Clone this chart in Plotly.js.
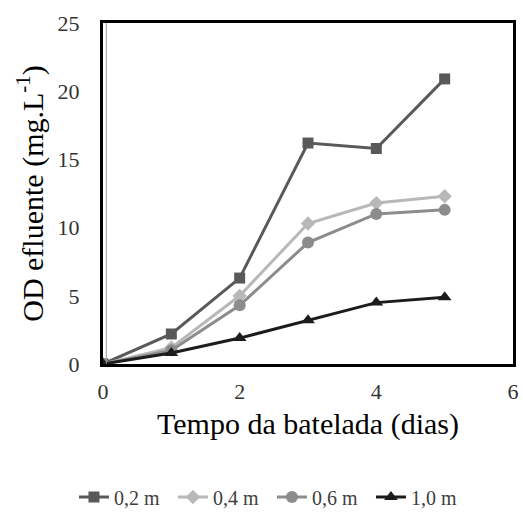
<!DOCTYPE html>
<html><head><meta charset="utf-8">
<script src="https://cdn.plot.ly/plotly-3.0.1.min.js"></script>
<style>body{margin:0;background:#fff}#c{width:523px;height:515px}</style>
</head><body><div id="c"></div>
<script>
const days = [0, 1, 2, 3, 4, 5];
const s02 = [0, 2.2, 6.3, 16.2, 15.8, 20.9];
const s04 = [0, 1.2, 5.0, 10.3, 11.8, 12.3];
const s06 = [0, 1.0, 4.3, 8.9, 11.0, 11.3];
const s10 = [0, 0.8, 1.9, 3.2, 4.5, 4.9];
const names = ['0,2 m', '0,4 m', '0,6 m', '1,0 m'];
const xTicks = [0, 2, 4, 6];
const yTicks = [0, 5, 10, 15, 20, 25];

const styles = [
  {color: '#595959', symbol: 'square', size: 11},
  {color: '#b8b8b8', symbol: 'diamond', size: 11},
  {color: '#8c8c8c', symbol: 'circle', size: 12},
  {color: '#1c1c1c', symbol: 'triangle-up', size: 12}
];
const series = [s02, s04, s06, s10];
const data = series.map((s, i) => ({
  x: days, y: s, name: names[i], type: 'scatter', mode: 'lines+markers',
  line: {color: styles[i].color, width: 3},
  marker: {color: styles[i].color, symbol: styles[i].symbol, size: styles[i].size}
}));

const fam = 'Liberation Serif';
const layout = {
  width: 523, height: 515,
  margin: {l: 103, r: 10, t: 23, b: 151},
  paper_bgcolor: '#fff', plot_bgcolor: '#fff',
  font: {family: fam, color: '#000'},
  showlegend: true,
  legend: {orientation: 'h', xref: 'container', yref: 'container', x: 0.52, xanchor: 'center', y: 0.035, yanchor: 'middle',
           font: {family: fam, size: 20, color: '#404040'}, entrywidth: 54, tracegroupgap: 0},
  xaxis: {range: [0, 6], tickvals: xTicks, ticktext: xTicks.map(String),
          showgrid: false, zeroline: false, showline: true, linecolor: '#000', linewidth: 3, mirror: true,
          ticks: '', ticklabelstandoff: 6, tickfont: {family: fam, size: 22, color: '#333'},
          title: {text: 'Tempo da batelada (dias)', font: {family: fam, size: 30, color: '#000'}, standoff: 10}},
  yaxis: {range: [0, 25], tickvals: yTicks, ticktext: yTicks.map(String),
          showgrid: false, zeroline: false, showline: true, linecolor: '#000', linewidth: 3, mirror: true,
          ticks: '', ticklabelstandoff: 16, tickfont: {family: fam, size: 22, color: '#333'},
          title: {text: 'OD efluente (mg.L<sup>-1</sup>)', font: {family: fam, size: 30, color: '#000'}, standoff: 6}},
  shapes: [
    {type: 'line', xref: 'paper', yref: 'paper', x0: 0.008, x1: 0.008, y0: 0, y1: 1,
     line: {color: '#999', width: 1}}
  ]
};
Plotly.newPlot('c', data, layout, {displayModeBar: false, staticPlot: true});
</script></body></html>
